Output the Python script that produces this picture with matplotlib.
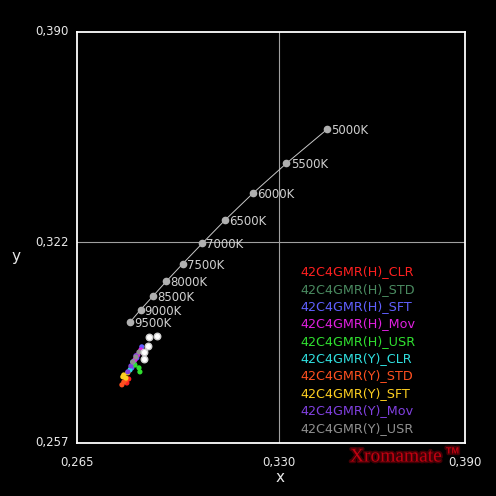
import matplotlib.pyplot as plt
import matplotlib.patheffects as pe

# daylight locus points (x, y)
temps = ["5000K", "5500K", "6000K", "6500K", "7000K", "7500K", "8000K", "8500K", "9000K", "9500K"]
locus_x = [0.3457, 0.3325, 0.3217, 0.3128, 0.3054, 0.2991, 0.2938, 0.2894, 0.2855, 0.2822]
locus_y = [0.3586, 0.3475, 0.3378, 0.3292, 0.3216, 0.3150, 0.3093, 0.3044, 0.3001, 0.2962]

# measured series
names = ["42C4GMR(H)_CLR", "42C4GMR(H)_STD", "42C4GMR(H)_SFT", "42C4GMR(H)_Mov", "42C4GMR(H)_USR",
         "42C4GMR(Y)_CLR", "42C4GMR(Y)_STD", "42C4GMR(Y)_SFT", "42C4GMR(Y)_Mov", "42C4GMR(Y)_USR"]
colors = ["#ff2020", "#4a8a60", "#6060ff", "#e020e0", "#30e030",
          "#30e0e0", "#ff5020", "#ffd020", "#8040e0", "#909090"]
series_x = [
    [0.2811, 0.2817],
    [0.2834, 0.2824],
    [0.2843, 0.2859, 0.2827],
    [0.2846, 0.2856, 0.2837],
    [0.2850, 0.2853, 0.2837],
    [0.2821, 0.2830],
    [0.2795, 0.2801, 0.2808],
    [0.2801, 0.2808, 0.2814, 0.2798],
    [0.2840, 0.2824, 0.2814],
    [0.2830, 0.2840, 0.2850],
]
series_y = [
    [0.2764, 0.2777],
    [0.2829, 0.2813],
    [0.2845, 0.2881, 0.2813],
    [0.2855, 0.2871, 0.2839],
    [0.2813, 0.2800, 0.2822],
    [0.2806, 0.2832],
    [0.2758, 0.2767, 0.2774],
    [0.2790, 0.2780, 0.2797, 0.2784],
    [0.2852, 0.2819, 0.2800],
    [0.2832, 0.2848, 0.2864],
]
white_x = [0.2908, 0.2882, 0.2879, 0.2866, 0.2866]
white_y = [0.2916, 0.2913, 0.2884, 0.2864, 0.2842]

x_ticks = [0.265, 0.330, 0.390]
y_ticks = [0.257, 0.322, 0.390]

fig = plt.figure(figsize=(4.96, 4.96), dpi=100, facecolor="black")
ax = fig.add_axes([0.155, 0.107, 0.7825, 0.8285], facecolor="black")
ax.set_xlim(0.265, 0.390)
ax.set_ylim(0.257, 0.390)

for s in ax.spines.values():
    s.set_color("white")
    s.set_linewidth(1.3)
ax.set_xticks([])
ax.set_yticks([])

# crosshair
ax.axvline(0.330, color="#a0a0a0", lw=0.8)
ax.axhline(0.322, color="#a0a0a0", lw=0.8)

# tick labels
for v in x_ticks:
    ax.text(v, -0.048, f"{v:.3f}".replace(".", ","), transform=ax.get_xaxis_transform(),
            ha="center", va="center", color="#e8e8e8", fontsize=8.5, clip_on=False)
for v in y_ticks:
    ax.text(-0.02, v, f"{v:.3f}".replace(".", ","), transform=ax.get_yaxis_transform(),
            ha="right", va="center", color="#e8e8e8", fontsize=8.5, clip_on=False)
fig.text(280 / 496, 1 - 478 / 496, "x", color="#e8e8e8", fontsize=11, ha="center", va="center")
fig.text(16 / 496, 1 - 257 / 496, "y", color="#e8e8e8", fontsize=11, ha="center", va="center")

# daylight locus
ax.plot(locus_x, locus_y, color="#c8c8c8", lw=0.7, marker="o", ms=4.5,
        mfc="#b0b0b0", mec="#b0b0b0", zorder=3)
for tx, ty, t in zip(locus_x, locus_y, temps):
    ax.annotate(t, (tx, ty), xytext=(3, -1), textcoords="offset points",
                ha="left", va="center", color="#d0d0d0", fontsize=8.5)

# measurements
for xs, ys, c in zip(series_x, series_y, colors):
    ax.scatter(xs, ys, s=14, color=c, edgecolors="none", zorder=4)
ax.scatter(white_x, white_y, s=22, color="white", edgecolors="#d0d0d0", zorder=5)

# colored legend text
for i, (n, c) in enumerate(zip(names, colors)):
    ax.text(0.575, 0.416 - i * 0.0422, n, transform=ax.transAxes, color=c,
            fontsize=9.2, ha="left", va="center")

glow = [pe.withStroke(linewidth=2.5, foreground="#400005")]
fig.text(350 / 496, 1 - 457 / 496, "Xromamate", color="#c00010", fontsize=14,
         family="Liberation Serif", ha="left", va="center", path_effects=glow)
fig.text(446 / 496, 1 - 451 / 496, "TM", color="#c00010", fontsize=6.5,
         family="Liberation Sans", fontweight="bold", ha="left", va="center", path_effects=glow)

fig.savefig("out.png", dpi=100, facecolor="black")
